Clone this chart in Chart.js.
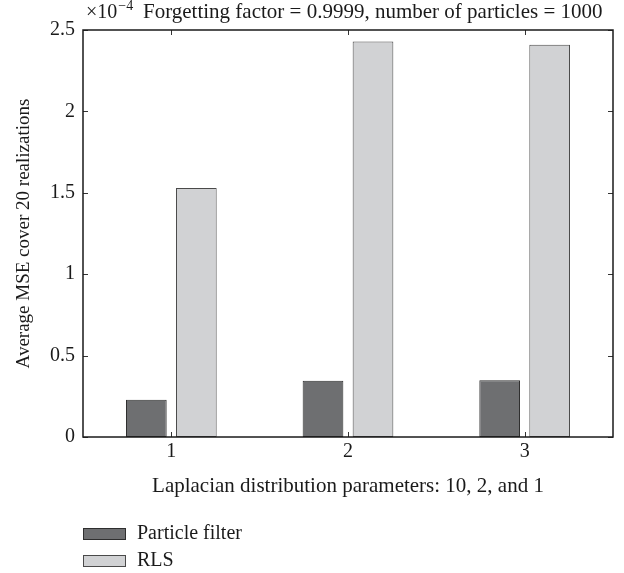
<!DOCTYPE html>
<html>
<head>
<meta charset="utf-8">
<script src="https://cdn.jsdelivr.net/npm/chart.js@4.4.1/dist/chart.umd.min.js"></script>
<style>
  body { margin: 0; background: #fff; }
  #wrap { width: 624px; height: 573px; }
</style>
</head>
<body>
<div id="wrap"><canvas id="mse"></canvas></div>
<script>
// values in units of 1e-4
const categories = ['1', '2', '3'];
const particleFilter = [0.229, 0.346, 0.348];
const rls = [1.529, 2.43, 2.41];
const yTicks = [0, 0.5, 1, 1.5, 2, 2.5];

const FONT = '"Liberation Serif", "Times New Roman", serif';

// MATLAB-ish decorations: box, inward ticks, title with exponent, stacked legend
const matlabLook = {
    id: 'matlabLook',
    afterDatasetsDraw(chart) {
        const { ctx, chartArea: a, scales } = chart;
        ctx.save();
        ctx.strokeStyle = '#333';
        ctx.lineWidth = 1;
        const tl = 5;
        ctx.beginPath();
        scales.x.ticks.forEach((t, i) => {
            const px = Math.round(scales.x.getPixelForTick(i)) + 0.5;
            ctx.moveTo(px, a.bottom); ctx.lineTo(px, a.bottom - tl);
            ctx.moveTo(px, a.top); ctx.lineTo(px, a.top + tl);
        });
        scales.y.ticks.forEach((t, i) => {
            const py = Math.round(scales.y.getPixelForTick(i)) + 0.5;
            ctx.moveTo(a.left, py); ctx.lineTo(a.left + tl, py);
            ctx.moveTo(a.right, py); ctx.lineTo(a.right - tl, py);
        });
        ctx.stroke();
        ctx.strokeStyle = '#1a1a1a';
        ctx.lineWidth = 1.5;
        ctx.strokeRect(a.left, a.top, a.right - a.left, a.bottom - a.top);
        ctx.restore();
    },
    afterDraw(chart) {
        const { ctx, chartArea: a } = chart;
        ctx.save();
        ctx.fillStyle = '#1a1a1a';
        ctx.textBaseline = 'alphabetic';
        ctx.textAlign = 'left';
        // exponent label
        ctx.font = '20px ' + FONT;
        ctx.fillText('\u00d710', a.left + 3, 18);
        const w = ctx.measureText('\u00d710').width;
        ctx.font = '14px ' + FONT;
        ctx.fillText('\u22124', a.left + 3 + w + 1, 10);
        // title
        ctx.font = '21px ' + FONT;
        ctx.fillText('Forgetting factor = 0.9999, number of particles = 1000', 143, 18);

        // legend, one row per dataset
        ctx.textBaseline = 'middle';
        ctx.font = '20px ' + FONT;
        chart.data.datasets.forEach((ds, i) => {
            const y = 528 + i * 27;
            ctx.fillStyle = ds.backgroundColor;
            ctx.strokeStyle = ds.borderColor;
            ctx.lineWidth = 1;
            ctx.fillRect(83.5, y + 0.5, 42, 11);
            ctx.strokeRect(83.5, y + 0.5, 42, 11);
            ctx.fillStyle = '#1a1a1a';
            ctx.fillText(ds.label, 137, y + 6);
        });
        ctx.restore();
    }
};

const ctx = document.getElementById('mse').getContext('2d');
new Chart(ctx, {
    type: 'bar',
    data: {
        labels: categories,
        datasets: [{
            label: 'Particle filter',
            data: particleFilter,
            backgroundColor: '#6e6f71',
            borderColor: '#2e2e2e',
            borderWidth: 1,
            borderSkipped: false,
        }, {
            label: 'RLS',
            data: rls,
            backgroundColor: '#d1d2d4',
            borderColor: '#4a4a4a',
            borderWidth: 1,
            borderSkipped: false,
        }]
    },
    options: {
        responsive: true,
        maintainAspectRatio: false,
        animation: false,
        categoryPercentage: 0.566,
        barPercentage: 0.814,
        layout: { padding: { left: 0, right: 11, top: 30, bottom: 74 } },
        plugins: {
            legend: { display: false },
            tooltip: { enabled: false },
        },
        scales: {
            x: {
                grid: { display: false, drawTicks: false },
                border: { display: false },
                ticks: { color: '#1a1a1a', padding: 3, font: { family: FONT, size: 20 } },
                title: {
                    display: true,
                    text: 'Laplacian distribution parameters: 10, 2, and 1',
                    color: '#1a1a1a',
                    padding: 0,
                    font: { family: FONT, size: 21 }
                },
                afterFit(scale) { scale.height = 62; }
            },
            y: {
                min: 0,
                max: 2.5,
                grid: { display: false, drawTicks: false },
                border: { display: false },
                afterBuildTicks(scale) { scale.ticks = yTicks.map(v => ({ value: v })); },
                ticks: {
                    color: '#1a1a1a',
                    padding: 8,
                    font: { family: FONT, size: 20 },
                    callback: v => String(v)
                },
                title: {
                    display: true,
                    text: 'Average MSE cover 20 realizations',
                    color: '#1a1a1a',
                    padding: { top: 13, bottom: 0 },
                    font: { family: FONT, size: 19 }
                },
                afterFit(scale) { scale.width = 83; }
            }
        }
    },
    plugins: [matlabLook]
});
</script>
</body>
</html>
